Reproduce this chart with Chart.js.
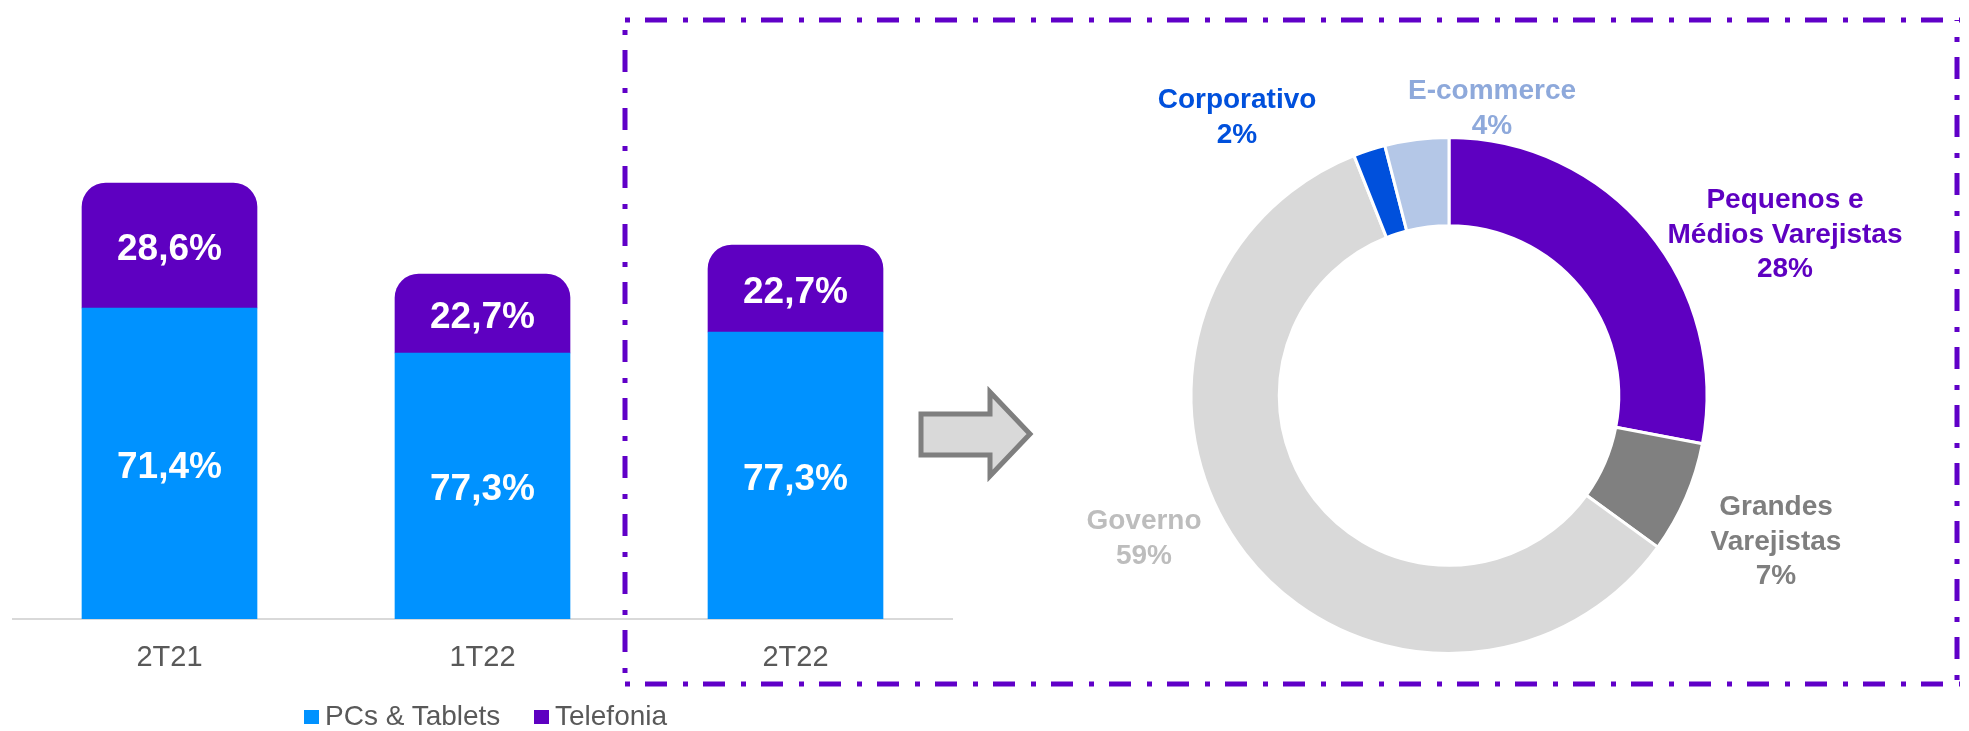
<!DOCTYPE html>
<html>
<head>
<meta charset="utf-8">
<script src="https://cdn.jsdelivr.net/npm/chart.js@4.4.0/dist/chart.umd.min.js"></script>
<style>
  html, body { margin: 0; padding: 0; background: #fff; overflow: hidden; }
  body { width: 1969px; height: 731px; position: relative; font-family: "Liberation Sans", Arial, sans-serif; }
  canvas { position: absolute; }
  #barCanvas { left: 0; top: 0; }
  #pieCanvas { left: 1000px; top: 30px; }
  #deco { left: 0; top: 0; pointer-events: none; }
  .leg { position: absolute; top: 700px; font-size: 28px; color: #595959; line-height: 32px; white-space: nowrap; }
  .leg i { display: inline-block; width: 15px; height: 14px; margin-right: 6px; vertical-align: 1px; }
</style>
</head>
<body>
<canvas id="barCanvas" width="1969" height="731"></canvas>
<canvas id="pieCanvas" width="960" height="690"></canvas>
<canvas id="deco" width="1969" height="731"></canvas>
<div class="leg" style="left:304px"><i style="background:#0092FF"></i>PCs &amp; Tablets</div>
<div class="leg" style="left:534px"><i style="background:#5E00C1"></i>Telefonia</div>

<script>
// ---- dados ----
const quarters = ["2T21", "1T22", "2T22"];
const pcsTablets = [311, 266, 287];       // altura do segmento (escala do gráfico)
const telefonia = [125, 79, 87];
const pcsLabels = ["71,4%", "77,3%", "77,3%"];
const telLabels = ["28,6%", "22,7%", "22,7%"];

const channels = ["Pequenos e Médios Varejistas", "Grandes Varejistas", "Governo", "Corporativo", "E-commerce"];
const channelShare = [28, 7, 59, 2, 4];
const channelLines = [
  ["Pequenos e", "Médios Varejistas", "28%"],
  ["Grandes", "Varejistas", "7%"],
  ["Governo", "59%"],
  ["Corporativo", "2%"],
  ["E-commerce", "4%"]
];

const FONT = '"Liberation Sans", Arial, sans-serif';
const PURPLE = "#5E00C1";
const BLUE = "#0092FF";

// ---- rótulos das barras ----
const barLabelPlugin = {
  id: "barLabels",
  afterDatasetsDraw(chart) {
    const c = chart.ctx;
    const texts = [pcsLabels, telLabels];
    c.save();
    c.fillStyle = "#fff";
    c.font = "bold 37px " + FONT;
    c.textAlign = "center";
    c.textBaseline = "alphabetic";
    chart.data.datasets.forEach((ds, i) => {
      chart.getDatasetMeta(i).data.forEach((bar, j) => {
        const mid = (bar.y + bar.base) / 2;
        c.fillText(texts[i][j], bar.x, mid + 14);
      });
    });
    c.restore();
  }
};

new Chart(document.getElementById("barCanvas"), {
  type: "bar",
  data: {
    labels: quarters,
    datasets: [
      { label: "PCs & Tablets", data: pcsTablets, backgroundColor: BLUE, borderRadius: 0 },
      { label: "Telefonia", data: telefonia, backgroundColor: PURPLE,
        borderRadius: { topLeft: 24, topRight: 24, bottomLeft: 0, bottomRight: 0 }, borderSkipped: "bottom" }
    ]
  },
  options: {
    responsive: false,
    animation: false,
    devicePixelRatio: 1,
    barThickness: 175,
    layout: { padding: { left: 13, right: 1017, top: 19, bottom: 52 } },
    plugins: { legend: { display: false }, tooltip: { enabled: false } },
    scales: {
      x: {
        stacked: true,
        grid: { display: false, drawTicks: false },
        border: { color: "#D9D9D9", width: 2 },
        ticks: { color: "#595959", font: { family: FONT, size: 29 }, padding: 22 },
        afterFit(scale) { scale.height = 60; }
      },
      y: { stacked: true, display: false, min: 0, max: 600 }
    }
  },
  plugins: [barLabelPlugin]
});

// ---- rosca ----
const sliceColors = [PURPLE, "#808080", "#D9D9D9", "#0050DC", "#B4C7E7"];
const labelColors = [PURPLE, "#7F7F7F", "#BDBDBD", "#0050DC", "#8EA9DB"];
// posição do centro do bloco de texto em relação ao centro da rosca
const labelOffsets = [[336, -163], [327, 144], [-305, 141], [-212, -280], [43, -289]];

const pieLabelPlugin = {
  id: "pieLabels",
  afterDraw(chart) {
    const c = chart.ctx;
    const arc = chart.getDatasetMeta(0).data[0];
    const lh = 34.5;
    c.save();
    c.font = "bold 28px " + FONT;
    c.textAlign = "center";
    c.textBaseline = "alphabetic";
    channelLines.forEach((lines, i) => {
      const cx = arc.x + labelOffsets[i][0];
      const cy = arc.y + labelOffsets[i][1];
      c.fillStyle = labelColors[i];
      lines.forEach((t, k) => {
        const y = cy + (k - (lines.length - 1) / 2) * lh;
        c.fillText(t, cx, y + 10);
      });
    });
    c.restore();
  }
};

new Chart(document.getElementById("pieCanvas"), {
  type: "doughnut",
  data: {
    labels: channels,
    datasets: [{
      data: channelShare,
      backgroundColor: sliceColors,
      borderColor: "#fff",
      borderWidth: 3,
      radius: 258,
      cutout: "65.8%"
    }]
  },
  options: {
    responsive: false,
    animation: false,
    devicePixelRatio: 1,
    layout: { padding: { left: 0, right: 62, top: 41, bottom: 0 } },
    plugins: { legend: { display: false }, tooltip: { enabled: false } }
  },
  plugins: [pieLabelPlugin]
});

// ---- moldura tracejada e seta ----
const d = document.getElementById("deco").getContext("2d");
d.strokeStyle = "#6000C8";
d.lineWidth = 5;
d.lineCap = "butt";
d.setLineDash([5, 15, 22, 16]);
function edge(x1, y1, x2, y2, off) {
  d.lineDashOffset = off;
  d.beginPath();
  d.moveTo(x1, y1);
  d.lineTo(x2, y2);
  d.stroke();
}
edge(625, 20, 1960, 20, 0);
edge(1957, 20, 1957, 686, -17);
edge(625, 684, 1960, 684, 0);
edge(625, 20, 625, 686, -10);
d.setLineDash([]);

d.beginPath();
d.moveTo(921, 414);
d.lineTo(990, 414);
d.lineTo(990, 392);
d.lineTo(1030, 434);
d.lineTo(990, 476);
d.lineTo(990, 455);
d.lineTo(921, 455);
d.closePath();
d.fillStyle = "#D9D9D9";
d.fill();
d.strokeStyle = "#7F7F7F";
d.lineWidth = 5;
d.stroke();
</script>
</body>
</html>
